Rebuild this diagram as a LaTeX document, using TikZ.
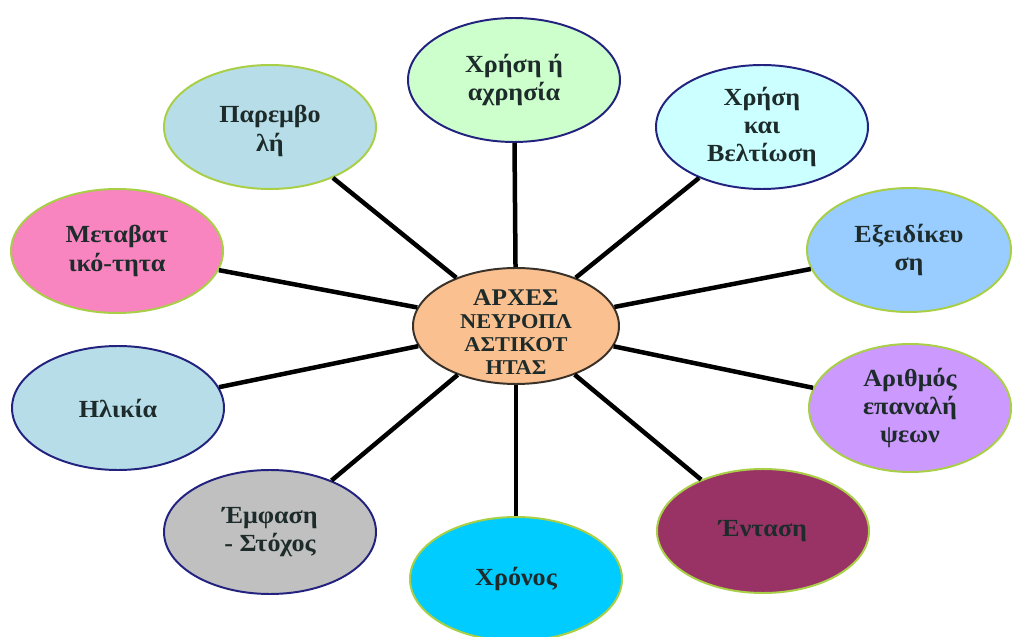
\documentclass[tikz,border=0pt]{standalone}
\usepackage{fontspec}
\setmainfont{Liberation Serif}[FakeStretch=1.06]
\usetikzlibrary{shapes.geometric}
\definecolor{navyline}{HTML}{23237F}
\definecolor{limeline}{HTML}{A8CF45}
\definecolor{brownline}{HTML}{3A3128}
\definecolor{peach}{HTML}{FAC090}
\definecolor{paleblue}{HTML}{B7DEE8}
\definecolor{pinkfill}{HTML}{F884C0}
\definecolor{greyfill}{HTML}{C0C0C0}
\definecolor{cyanfill}{HTML}{00CCFF}
\definecolor{plumfill}{HTML}{993366}
\definecolor{lilacfill}{HTML}{CC99FF}
\definecolor{skyfill}{HTML}{99CCFF}
\definecolor{icefill}{HTML}{CCFFFF}
\definecolor{mintfill}{HTML}{CCFFCC}
\definecolor{inktext}{HTML}{1E2B2B}

\begin{document}
\begin{tikzpicture}[every node/.style={font=\fontsize{17.5}{20}\selectfont\bfseries,text=inktext},
  bub/.style={ellipse,line width=1.4pt,minimum width=5.3cm,minimum height=3.1cm,inner sep=0pt},
  txt/.style={align=center,inner sep=0pt},
  spoke/.style={line width=3.2pt,black}]
\useasboundingbox (0,0) rectangle (25.3,15.925);
\fill[white] (0,0) rectangle (25.3,15.925);
\node[bub,fill=peach,draw=brownline,minimum width=5.15cm,minimum height=2.9cm] (arxes) at (12.9,7.775) {};
\node[bub,fill=mintfill,draw=navyline] (xrisi) at (12.85,13.925) {};
\node[bub,fill=icefill,draw=navyline] (veltiosi) at (19.05,12.75) {};
\node[bub,fill=skyfill,draw=limeline,minimum width=5.1cm] (exeid) at (22.725,9.675) {};
\node[bub,fill=lilacfill,draw=limeline,minimum width=5.05cm,minimum height=3.2cm] (arithmos) at (22.75,5.725) {};
\node[bub,fill=plumfill,draw=limeline] (entasi) at (19.075,2.65) {};
\node[bub,fill=cyanfill,draw=limeline] (xronos) at (12.9,1.45) {};
\node[bub,fill=greyfill,draw=navyline] (emfasi) at (6.75,2.625) {};
\node[bub,fill=paleblue,draw=navyline] (ilikia) at (2.95,5.725) {};
\node[bub,fill=pinkfill,draw=limeline] (metav) at (2.925,9.65) {};
\node[bub,fill=paleblue,draw=limeline] (paremv) at (6.75,12.75) {};
\draw[spoke] (arxes)--(xrisi);
\draw[spoke] (arxes)--(veltiosi);
\draw[spoke] (arxes)--(exeid);
\draw[spoke] (arxes)--(arithmos);
\draw[spoke] (arxes)--(entasi);
\draw[spoke] (arxes)--(xronos);
\draw[spoke] (arxes)--(emfasi);
\draw[spoke] (arxes)--(ilikia);
\draw[spoke] (arxes)--(metav);
\draw[spoke] (arxes)--(paremv);
\node[txt,font=\fontsize{15}{16.5}\selectfont\bfseries] (arxes-t) at ([yshift=-0.15cm]arxes) {{\fontsize{17}{16.5}\selectfont ΑΡΧΕΣ}\\ΝΕΥΡΟΠΛ\\ΑΣΤΙΚΟΤ\\ΗΤΑΣ};
\node[txt] (xrisi-t) at (xrisi) {Χρήση ή\\αχρησία};
\node[txt] (veltiosi-t) at (veltiosi) {Χρήση\\και\\Βελτίωση};
\node[txt] (exeid-t) at (exeid) {Εξειδίκευ\\ση};
\node[txt] (arithmos-t) at (arithmos) {Αριθμός\\επαναλή\\ψεων};
\node[txt] (entasi-t) at (entasi) {Ένταση};
\node[txt] (xronos-t) at (xronos) {Χρόνος};
\node[txt] (emfasi-t) at (emfasi) {Έμφαση\\- Στόχος};
\node[txt] (ilikia-t) at (ilikia) {Ηλικία};
\node[txt] (metav-t) at (metav) {Μεταβατ\\ικό-τητα};
\node[txt] (paremv-t) at ([yshift=-0.1cm]paremv) {Παρεμβο\\λή};
\end{tikzpicture}
\end{document}
